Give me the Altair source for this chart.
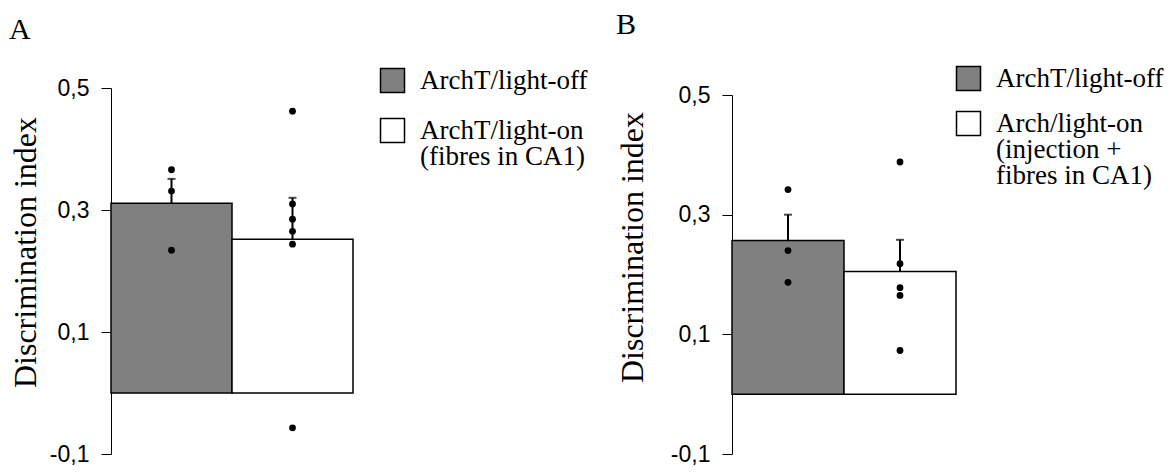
import altair as alt
import pandas as pd

# ---- data ----
a_groups = ["ArchT/light-off", "ArchT/light-on|(fibres in CA1)"]
a_means = [0.311, 0.252]
a_sems = [0.040, 0.068]
a_off_points = [0.366, 0.331, 0.234]
a_on_points = [0.462, 0.310, 0.285, 0.265, 0.244, -0.057]

b_groups = ["ArchT/light-off", "Arch/light-on|(injection +|fibres in CA1)"]
b_means = [0.257, 0.205]
b_sems = [0.043, 0.053]
b_off_points = [0.342, 0.240, 0.187]
b_on_points = [0.388, 0.218, 0.178, 0.165, 0.073]

y_ticks = [-0.1, 0.1, 0.3, 0.5]
bar_colors = ["#808080", "#ffffff"]

SERIF = "Liberation Serif"
SANS = "Liberation Sans"

LABEL_EXPR = ("(datum.value < 0 ? '-' : '') + "
              "replace(format(abs(datum.value), '.1f'), '.', ',')")


def panel(letter, groups, means, sems, off_pts, on_pts, width, height,
          y_range, title_x, title_y, legend_x, legend_y, row_pad,
          title_offset):
    bars_df = pd.DataFrame({
        "group": groups,
        "mean": means,
        "top": [m + s for m, s in zip(means, sems)],
    })
    pts_df = pd.DataFrame({
        "group": [groups[0]] * len(off_pts) + [groups[1]] * len(on_pts),
        "value": off_pts + on_pts,
    })
    x = alt.X("group:N", sort=groups, axis=None,
              scale=alt.Scale(paddingInner=0, paddingOuter=0))
    yscale = alt.Scale(domain=[-0.1, 0.5], nice=False, range=y_range)

    bars = alt.Chart(bars_df).mark_bar(stroke="black", strokeWidth=1.5).encode(
        x=x,
        y=alt.Y("mean:Q", scale=yscale,
                axis=alt.Axis(values=y_ticks, labelExpr=LABEL_EXPR,
                              title="Discrimination index",
                              titleFont=SERIF, titleFontSize=32,
                              titleFontWeight="normal", titleColor="black",
                              titleX=title_x, titleY=title_y,
                              titleAngle=270, titleAlign="center",
                              titleBaseline="alphabetic",
                              labelFont=SANS, labelFontSize=23,
                              labelColor="black", labelPadding=12,
                              tickSize=10, tickColor="black", tickWidth=1,
                              domainColor="black", domainWidth=1,
                              grid=False)),
        color=alt.Color("group:N", sort=groups,
                        scale=alt.Scale(domain=groups, range=bar_colors),
                        legend=alt.Legend(
                            orient="none", legendX=legend_x, legendY=legend_y,
                            title=None, padding=0,
                            symbolType="square", symbolSize=576,
                            symbolStrokeColor="black", symbolStrokeWidth=1.5,
                            symbolOpacity=1,
                            labelFont=SERIF, labelFontSize=27,
                            labelColor="black", labelOffset=14,
                            labelLimit=0, rowPadding=row_pad,
                            labelExpr="split(datum.label, '|')")),
    )
    err = alt.Chart(bars_df).mark_rule(color="black", strokeWidth=2).encode(
        x=x, y=alt.Y("mean:Q", scale=yscale), y2="top:Q")
    cap = alt.Chart(bars_df).mark_tick(color="black", thickness=2, size=8).encode(
        x=x, y=alt.Y("top:Q", scale=yscale))
    dots = alt.Chart(pts_df).mark_circle(color="black", size=46, opacity=1).encode(
        x=x, y=alt.Y("value:Q", scale=yscale))

    return alt.layer(bars, err, cap, dots).properties(
        width=width, height=height,
        title=alt.TitleParams(letter, anchor="start", frame="bounds",
                              font=SERIF, fontSize=30, fontWeight="normal",
                              color="black", offset=title_offset),
    )


pa = panel("A", a_groups, a_means, a_sems, a_off_points, a_on_points,
           242, 366, [366, 0], -76, 164, 268, -21, 19, 22)
pb = panel("B", b_groups, b_means, b_sems, b_off_points, b_on_points,
           224, 366, [366, 7], -90, 159, 223, -23, 14, 25)

chart = alt.hconcat(pa, pb, spacing=28).resolve_scale(
    color="independent", y="independent"
).properties(
    padding={"left": 1, "top": 2, "right": 0, "bottom": 0}
).configure(
    background="white",
    style={"guide-label": {"lineHeight": 26}},
).configure_view(stroke=None)

chart.save("out.html", embed_options={"renderer": "svg", "actions": False})
